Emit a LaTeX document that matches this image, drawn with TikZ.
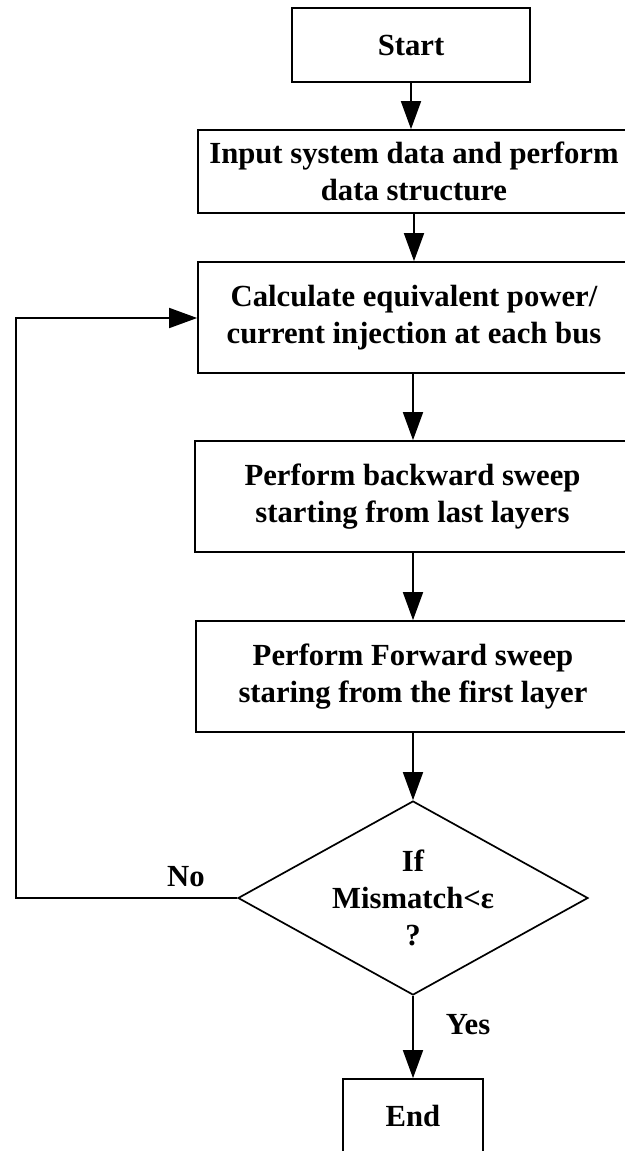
\documentclass[tikz,border=0pt]{standalone}
\usepackage{fontspec}
\setmainfont{Liberation Serif}
\usetikzlibrary{shapes.geometric,arrows.meta}
\tikzset{
  txt/.style={font=\fontsize{30.7}{37}\selectfont\bfseries},
  base/.style={draw=black, line width=1.7pt, txt, align=center, inner sep=0pt},
  stepbox/.style={base, rectangle},
  decide/.style={draw=black, line width=1.7pt, diamond, inner sep=0pt, minimum width=350pt, minimum height=194pt},
  lbl/.style={txt, inner sep=0pt, align=center},
  arr/.style={line width=1.7pt, -{Triangle[length=28pt,width=20pt]}},
}
\begin{document}
\begin{tikzpicture}[x=1pt,y=-1pt]
\fill[white] (0,0) rectangle (624,1151);
\useasboundingbox (0,0) rectangle (624,1151);
\node[stepbox, minimum width=238pt, minimum height=74pt] (start) at (411,45) {Start};
\node[stepbox, minimum width=432pt, minimum height=83pt] (input) at (414,171.5) {Input system data and perform\\data structure};
\node[stepbox, minimum width=432pt, minimum height=111pt] (calc) at (414,317.5) {Calculate equivalent power/\\current injection at each bus};
\node[stepbox, minimum width=435pt, minimum height=111pt] (back) at (412.5,496.5) {Perform backward sweep\\starting from last layers};
\node[stepbox, minimum width=434pt, minimum height=111pt] (fwd) at (413,676.5) {Perform Forward sweep\\staring from the first layer};
\node[decide] (dec) at (413,898) {};
\node[lbl] (dectext) at (dec.center) {If\\Mismatch<ε\\?};
\node[stepbox, minimum width=140pt, minimum height=74pt] (end) at (413,1116) {End};
\coordinate (loopbot) at (16,898);
\coordinate (looptop) at (16,318);
\node[lbl] (no) at (186,877) {No};
\node[lbl] (yes) at (468,1025) {Yes};
\draw[arr] (start.south) -- (start.south |- input.north);
\draw[arr] (input.south) -- (input.south |- calc.north);
\draw[arr] (calc.south -| dec.north) -- (back.north -| dec.north);
\draw[arr] (back.south -| dec.north) -- (fwd.north -| dec.north);
\draw[arr] (fwd.south -| dec.north) -- (dec.north);
\draw[arr] (dec.south) -- (end.north);
\draw[arr] (dec.west) -- (loopbot) -- (looptop) -- (looptop -| calc.west);
\end{tikzpicture}
\end{document}
